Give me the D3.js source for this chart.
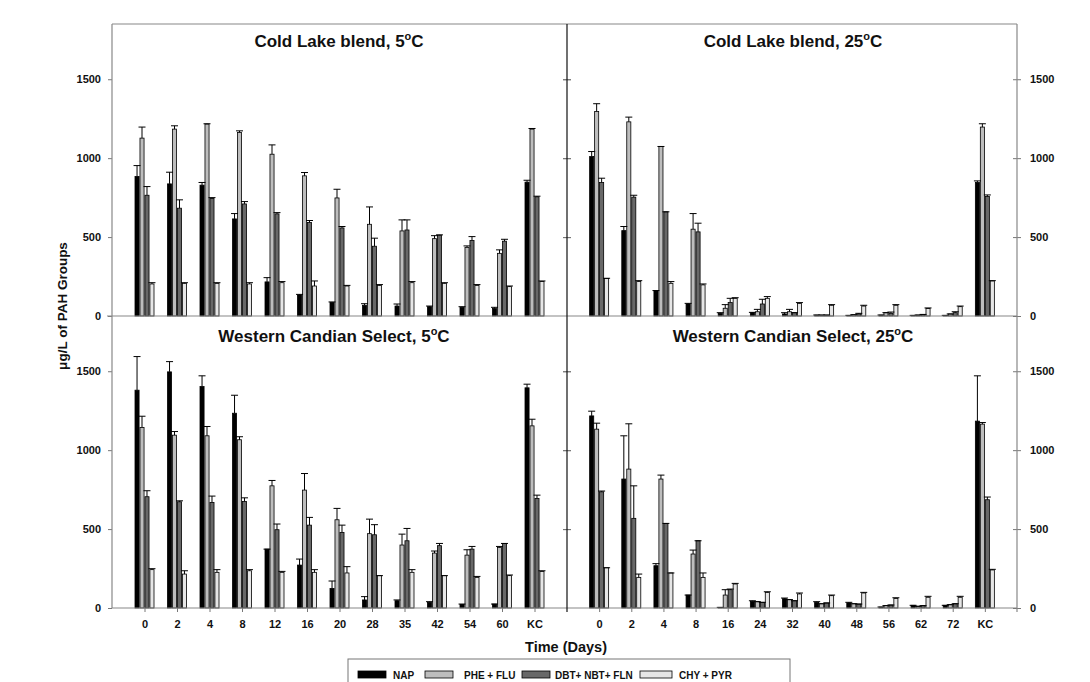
<!DOCTYPE html>
<html lang="en">
<head>
    <meta charset="UTF-8">
    <title>PAH groups over time</title>
    <script src="https://d3js.org/d3.v7.min.js"></script>
    <style>
        body { margin: 0; background: #fff; }
        text { font-family: "Liberation Sans", Arial, sans-serif; font-weight: bold; fill: #111; }
        .axis path { display: none; }
        .axis line { stroke: #777; }
        .axis text { font-size: 11px; }
        .bar { stroke: #000; stroke-width: 0.8px; }
        .err { stroke: #000; stroke-width: 1px; fill: none; }
    </style>
</head>
<body>
    <svg width="1090" height="682"></svg>
    <script>
        // categories
        const daysCold5 = ["0", "2", "4", "8", "12", "16", "20", "28", "35", "42", "54", "60", "KC"];
        const days25 = ["0", "2", "4", "8", "16", "24", "32", "40", "48", "56", "62", "72", "KC"];
        const groups = ["NAP", "PHE + FLU", "DBT+ NBT+ FLN", "CHY + PYR"];
        const colors = ["#000000", "#bdbdbd", "#686868", "#e6e6e6"];

        // Cold Lake blend, 5 C  (mean, sd)
        const cl5 = [
            [884, 837, 829, 615, 216, 133, 85, 68, 63, 59, 55, 47, 848],
            [1127, 1184, 1216, 1163, 1025, 888, 748, 581, 539, 490, 435, 397, 1184],
            [765, 683, 744, 710, 647, 592, 558, 442, 545, 512, 478, 474, 755],
            [203, 207, 207, 203, 211, 190, 190, 194, 211, 207, 194, 186, 218]
        ];
        const cl5sd = [
            [69, 74, 17, 34, 27, 4, 4, 10, 13, 4, 4, 8, 12],
            [70, 21, 2, 10, 59, 21, 55, 110, 70, 19, 9, 22, 4],
            [55, 53, 6, 15, 8, 13, 9, 51, 64, 2, 25, 12, 4],
            [8, 4, 4, 8, 7, 32, 4, 5, 7, 4, 5, 4, 4]
        ];

        // Cold Lake blend, 25 C
        const cl25 = [
            [1010, 541, 161, 76, 17, 21, 13, 6, 4, 6, 4, 4, 846],
            [1296, 1230, 1074, 550, 49, 27, 27, 6, 8, 21, 6, 13, 1197],
            [846, 753, 660, 533, 85, 76, 21, 6, 13, 17, 10, 21, 757],
            [237, 218, 207, 197, 112, 112, 80, 68, 63, 68, 47, 59, 222]
        ];
        const cl25sd = [
            [32, 26, 0, 4, 4, 2, 8, 0, 0, 0, 0, 0, 10],
            [49, 30, 0, 99, 23, 15, 15, 0, 0, 0, 0, 0, 21],
            [27, 12, 0, 55, 27, 30, 0, 0, 4, 8, 0, 6, 10],
            [2, 6, 11, 6, 4, 11, 5, 4, 5, 4, 4, 4, 2]
        ];

        // Western Candian Select, 5 C
        const wcs5 = [
            [1380, 1496, 1403, 1234, 373, 272, 124, 51, 46, 36, 23, 25, 1395],
            [1144, 1095, 1091, 1066, 774, 747, 559, 471, 399, 348, 335, 384, 1154],
            [705, 673, 669, 675, 496, 525, 479, 464, 426, 395, 373, 409, 694],
            [243, 215, 226, 236, 226, 226, 222, 205, 226, 205, 194, 205, 232]
        ];
        const wcs5sd = [
            [213, 65, 68, 114, 0, 38, 47, 21, 5, 4, 2, 0, 23],
            [71, 23, 59, 19, 34, 105, 72, 92, 69, 13, 34, 6, 42],
            [38, 6, 40, 23, 36, 49, 46, 64, 78, 14, 17, 0, 21],
            [6, 21, 17, 7, 6, 17, 40, 0, 17, 0, 6, 4, 4]
        ];

        // Western Candian Select, 25 C
        const wcs25 = [
            [1217, 817, 268, 82, 4, 42, 59, 36, 32, 6, 17, 17, 1184],
            [1133, 880, 817, 342, 82, 40, 53, 27, 27, 15, 11, 21, 1165],
            [736, 568, 536, 426, 116, 36, 46, 32, 25, 19, 15, 27, 686],
            [255, 194, 222, 194, 152, 99, 89, 78, 95, 61, 68, 68, 241]
        ];
        const wcs25sd = [
            [30, 274, 13, 0, 0, 4, 4, 4, 4, 0, 0, 0, 287],
            [38, 287, 25, 25, 34, 0, 0, 0, 0, 0, 0, 0, 10],
            [5, 206, 0, 0, 4, 0, 0, 0, 0, 0, 0, 0, 17],
            [0, 21, 0, 28, 4, 4, 6, 4, 4, 4, 6, 6, 4]
        ];

        const yTicks = [0, 500, 1000, 1500];

        const svg = d3.select("svg");
        const xL = 112, xM = 567, xR = 1017;
        const yT = 24, yMid = 316, yB = 608;

        const panels = [
            { title: "Cold Lake blend, 5", days: daysCold5, vals: cl5, sd: cl5sd, x0: xL, x1: xM, y0: yT, y1: yMid, tx: 339, ty: 47 },
            { title: "Cold Lake blend, 25", days: days25, vals: cl25, sd: cl25sd, x0: xM, x1: xR, y0: yT, y1: yMid, tx: 793, ty: 47 },
            { title: "Western Candian Select, 5", days: daysCold5, vals: wcs5, sd: wcs5sd, x0: xL, x1: xM, y0: yMid, y1: yB, tx: 334, ty: 342 },
            { title: "Western Candian Select, 25", days: days25, vals: wcs25, sd: wcs25sd, x0: xM, x1: xR, y0: yMid, y1: yB, tx: 793, ty: 342 }
        ];

        const inner = d3.scaleBand().domain(groups).range([-9.5, 9.5]).paddingInner(0.18);
        const fmt = d3.format("d");

        panels.forEach((p, pi) => {
            const x = d3.scalePoint().domain(p.days).range([p.x0, p.x1]).padding(1);
            const y = d3.scaleLinear().domain([0, 1850]).range([p.y1, p.y0]);
            const g = svg.append("g");

            // flatten series into rows
            const rows = [];
            groups.forEach((grp, si) => {
                p.days.forEach((d, di) => {
                    rows.push({ day: d, grp, si, v: p.vals[si][di], sd: p.sd[si][di] });
                });
            });

            g.selectAll(".bar")
                .data(rows)
                .enter()
                .append("rect")
                .attr("class", "bar")
                .attr("x", d => x(d.day) + inner(d.grp))
                .attr("width", inner.bandwidth())
                .attr("y", d => y(d.v))
                .attr("height", d => y(0) - y(d.v))
                .attr("fill", d => colors[d.si]);

            const errRows = rows.filter(d => d.sd > 0);
            const cx = d => x(d.day) + inner(d.grp) + inner.bandwidth() / 2;
            g.selectAll(".errv")
                .data(errRows)
                .enter()
                .append("line")
                .attr("class", "err")
                .attr("x1", cx).attr("x2", cx)
                .attr("y1", d => y(d.v)).attr("y2", d => y(d.v + d.sd));
            g.selectAll(".errc")
                .data(rows)
                .enter()
                .append("line")
                .attr("class", "err")
                .attr("x1", d => cx(d) - 3.5).attr("x2", d => cx(d) + 3.5)
                .attr("y1", d => y(d.v + d.sd)).attr("y2", d => y(d.v + d.sd));

            // zero baseline
            g.append("line")
                .attr("x1", p.x0).attr("x2", p.x1)
                .attr("y1", y(0)).attr("y2", y(0))
                .attr("stroke", "#888").attr("stroke-width", 1.2);

            // title with superscript degree
            const t = g.append("text")
                .attr("x", p.tx).attr("y", p.ty)
                .attr("text-anchor", "middle")
                .attr("font-size", "17px");
            t.append("tspan").text(p.title);
            t.append("tspan").attr("font-size", "11px").attr("dy", -7).text("o");
            t.append("tspan").attr("dy", 7).text("C");

            // y axes: left side of left panels, right side of right panels
            if (pi % 2 === 0) {
                g.append("g").attr("class", "axis")
                    .attr("transform", `translate(${xL},0)`)
                    .call(d3.axisLeft(y).tickValues(yTicks).tickSize(4).tickPadding(7).tickFormat(fmt));
            } else {
                g.append("g").attr("class", "axis")
                    .attr("transform", `translate(${xR},0)`)
                    .call(d3.axisRight(y).tickValues(yTicks).tickSize(4).tickPadding(9).tickFormat(fmt));
                g.append("g").attr("class", "axis")
                    .attr("transform", `translate(${xR},0)`)
                    .call(d3.axisLeft(y).tickValues(yTicks).tickSize(4).tickFormat(""));
            }
            // small ticks crossing the divider
            g.append("g").attr("class", "axis")
                .attr("transform", `translate(${xM},0)`)
                .call(d3.axisLeft(y).tickValues(yTicks.slice(1)).tickSize(4).tickFormat(""));
            g.append("g").attr("class", "axis")
                .attr("transform", `translate(${xM},0)`)
                .call(d3.axisRight(y).tickValues(yTicks.slice(1)).tickSize(4).tickFormat(""));

            // x axis labels only on the bottom row
            if (pi >= 2) {
                const ax = g.append("g").attr("class", "axis")
                    .attr("transform", `translate(0,${yB})`)
                    .call(d3.axisBottom(x).tickSize(4).tickPadding(8));
                ax.selectAll("text").attr("font-size", "12px");
            }
        });

        // frame
        svg.append("line").attr("x1", xL).attr("x2", xR).attr("y1", yT).attr("y2", yT)
            .attr("stroke", "#888").attr("stroke-width", 1.2);
        svg.append("line").attr("x1", xL).attr("x2", xL).attr("y1", yT).attr("y2", yB)
            .attr("stroke", "#888").attr("stroke-width", 1.2);
        svg.append("line").attr("x1", xR).attr("x2", xR).attr("y1", yT).attr("y2", yB + 4)
            .attr("stroke", "#888").attr("stroke-width", 1.2);
        svg.append("line").attr("x1", xM).attr("x2", xM).attr("y1", yT).attr("y2", yB + 4)
            .attr("stroke", "#111").attr("stroke-width", 1.2);
        svg.append("line").attr("x1", xL - 5).attr("x2", xL).attr("y1", yMid).attr("y2", yMid)
            .attr("stroke", "#888");

        // y label
        svg.append("text")
            .attr("transform", "translate(67,306) rotate(-90)")
            .attr("text-anchor", "middle")
            .attr("font-size", "13.5px")
            .text("\u03bcg/L of PAH Groups");

        // x label
        svg.append("text")
            .attr("x", 566).attr("y", 652)
            .attr("text-anchor", "middle")
            .attr("font-size", "14.5px")
            .text("Time (Days)");

        // legend
        const lg = svg.append("g");
        lg.append("rect").attr("x", 348).attr("y", 659).attr("width", 442).attr("height", 30)
            .attr("fill", "none").attr("stroke", "#777");
        const legX = [358, 425, 522, 640];
        const legTextX = [393, 464, 555, 679];
        const legW = [28, 28, 28, 32];
        groups.forEach((grp, i) => {
            lg.append("rect").attr("x", legX[i]).attr("y", 671).attr("width", legW[i]).attr("height", 7)
                .attr("fill", colors[i]).attr("stroke", "#000").attr("stroke-width", 0.8);
            lg.append("text").attr("x", legTextX[i]).attr("y", 678.5)
                .attr("font-size", "10px").text(grp);
        });
    </script>
</body>
</html>
